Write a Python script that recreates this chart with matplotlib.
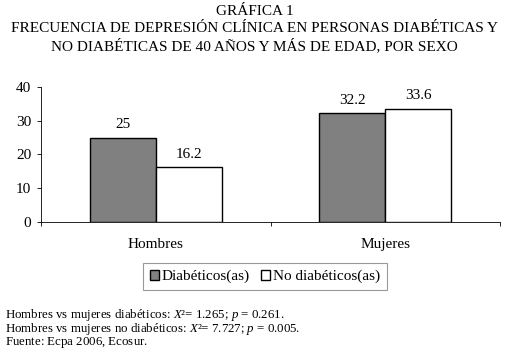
import matplotlib
matplotlib.use("Agg")
import matplotlib.pyplot as plt
import numpy as np

plt.rcParams['font.family'] = ['Liberation Serif', 'DejaVu Serif']
plt.rcParams['mathtext.fontset'] = 'custom'
plt.rcParams['mathtext.it'] = 'Liberation Serif:italic'
plt.rcParams['mathtext.rm'] = 'Liberation Serif'

categories = ["Hombres", "Mujeres"]
series_names = ["Diabéticos(as)", "No diabéticos(as)"]
diabeticos = [25, 32.2]
no_diabeticos = [16.2, 33.6]
value_labels_d = ["25", "32.2"]
value_labels_n = ["16.2", "33.6"]
yticks = [0, 10, 20, 30, 40]

fig = plt.figure(figsize=(5.09, 3.53), dpi=100)
W, H = 509, 353
ax = fig.add_axes([41 / W, 1 - 221.7 / H, (500 - 41) / W, (221.7 - 87) / H])

x = np.arange(len(categories))
w = 0.287
b1 = ax.bar(x - w / 2, diabeticos, w, color="#808080", edgecolor="black", linewidth=1, label=series_names[0])
b2 = ax.bar(x + w / 2, no_diabeticos, w, color="white", edgecolor="black", linewidth=1, label=series_names[1])

for rect, lab in zip(b1, value_labels_d):
    ax.text(rect.get_x() + rect.get_width() / 2, rect.get_height() + 1.8, lab,
            ha="center", va="bottom", fontsize=11)
for rect, lab in zip(b2, value_labels_n):
    ax.text(rect.get_x() + rect.get_width() / 2, rect.get_height() + 1.8, lab,
            ha="center", va="bottom", fontsize=11)

ax.set_xlim(-0.5, 1.5)
ax.set_ylim(0, 40)
ax.set_yticks(yticks)
ax.set_xticks([-0.5, 0.5, 1.5])
ax.set_xticklabels([])
ax.set_xticks(x, minor=True)
ax.set_xticklabels(categories, minor=True, fontsize=11)
ax.tick_params(axis="x", which="minor", length=0, pad=12)
ax.tick_params(axis="x", which="major", length=3, width=0.6, direction="out")
ax.tick_params(axis="y", length=3, width=0.6, labelsize=11, pad=4)
ax.spines["top"].set_visible(False)
ax.spines["right"].set_visible(False)
ax.spines["left"].set_linewidth(0.6)
ax.spines["bottom"].set_linewidth(0.6)

title_lines = [
    "GRÁFICA 1",
    "FRECUENCIA DE DEPRESIÓN CLÍNICA EN PERSONAS DIABÉTICAS Y",
    "NO DIABÉTICAS DE 40 AÑOS Y MÁS DE EDAD, POR SEXO",
]
for t, yy in zip(title_lines, [15, 32.5, 50]):
    fig.text(0.5, 1 - yy / H, t, ha="center", va="baseline", fontsize=11)

leg = fig.legend(handles=[b1, b2], labels=series_names, loc="center",
                 bbox_to_anchor=(265 / W, 1 - 276.5 / H), ncol=2, fontsize=11,
                 frameon=True, fancybox=False, edgecolor="#808080",
                 handlelength=0.6, handleheight=0.6, handletextpad=0.2,
                 columnspacing=0.7, borderpad=0.45)
leg.get_frame().set_linewidth(0.8)

foot = [
    r"Hombres vs mujeres diabéticos: $X$²= 1.265; $p$ = 0.261.",
    r"Hombres vs mujeres no diabéticos: $X$²= 7.727; $p$ = 0.005.",
    r"Fuente: Ecpa 2006, Ecosur.$\,$",
]
fig.text(5 / W, 1 - 328.5 / H, "\n".join(foot), ha="left", va="center",
         fontsize=9.3, linespacing=0.85, multialignment="left")

fig.savefig("out.png", dpi=100)
